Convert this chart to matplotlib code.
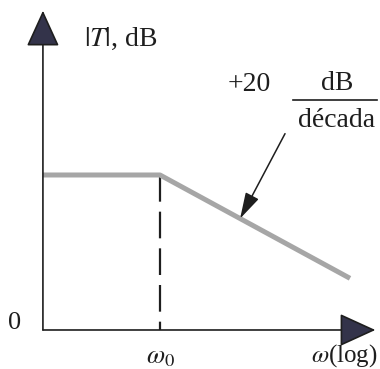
import numpy as np
import matplotlib.pyplot as plt

# Asymptotic Bode magnitude plot (first-order low-pass)
omega = [0.242, 1.0, 10.0]        # rad/s, break at omega_0 = 1
gain_db = [30.0, 30.0, 10.0]      # flat, then -20 dB/decade
omega0 = 1.0
axis_origin = 0.242

plt.rcParams['font.family'] = ['Liberation Serif', 'DejaVu Serif']
plt.rcParams['mathtext.fontset'] = 'stix'

fig = plt.figure(figsize=(3.8, 3.69), dpi=100)
ax = fig.add_axes([0, 0, 1, 1])
ax.set_xscale('log')
ax.set_xlim(10 ** (-160 / 190), 10 ** (220 / 190))
ax.set_ylim(-7.55, 63.87)
ax.axis('off')

ink = '#1e1e1e'
head = '#33334a'
fs = 20

# magnitude asymptotes
ax.plot(omega, gain_db, color='#a6a6a6', lw=3.6, solid_capstyle='butt', zorder=2)

# break frequency marker
ax.plot([omega0, omega0], [gain_db[1], 0], color=ink, lw=1.6,
        dashes=(12, 4.5), zorder=1)

# axes with arrowheads
arrow = dict(arrowstyle='-|>,head_length=2.3,head_width=1.05', mutation_scale=10,
             color=ink, fc=head, lw=1.2, shrinkA=0, shrinkB=0)
ax.annotate('', xy=(axis_origin, 61.8), xytext=(axis_origin, 0), arrowprops=arrow)
ax.annotate('', xy=(13.6, 0), xytext=(axis_origin, 0), arrowprops=arrow)

# labels
ax.text(0.40, 56.3, r'$|T|$, dB', fontsize=fs, color=ink, ha='left', va='center')
ax.text(0.172, 1.3, '0', fontsize=fs - 1, color=ink, ha='center', va='center')
ax.text(omega0, -5.4, r'$\omega_0$', fontsize=fs - 1, color=ink, ha='center', va='center')
ax.text(13.9, -4.9, r'$\omega$(log)', fontsize=fs - 2, color=ink, ha='right', va='center')

# slope annotation
ax.text(2.95, 47.5, '+20', fontsize=fs, color=ink, ha='center', va='center')
ax.text(8.6, 47.8, 'dB', fontsize=fs, color=ink, ha='center', va='center')
ax.plot([10 ** (133 / 190), 10 ** (217 / 190)], [44.5, 44.5], color=ink, lw=1.2)
ax.text(8.5, 40.6, 'década', fontsize=fs, color=ink, ha='center', va='center')
tip_w = 2.64
tip_db = np.interp(np.log10(tip_w), np.log10(omega), gain_db)
ax.annotate('', xy=(tip_w, tip_db), xytext=(4.55, 38.0),
            arrowprops=dict(arrowstyle='-|>,head_length=1.6,head_width=0.45',
                            mutation_scale=10, color=ink, lw=1.1,
                            shrinkA=0, shrinkB=0))

fig.savefig('out.png', dpi=100)
